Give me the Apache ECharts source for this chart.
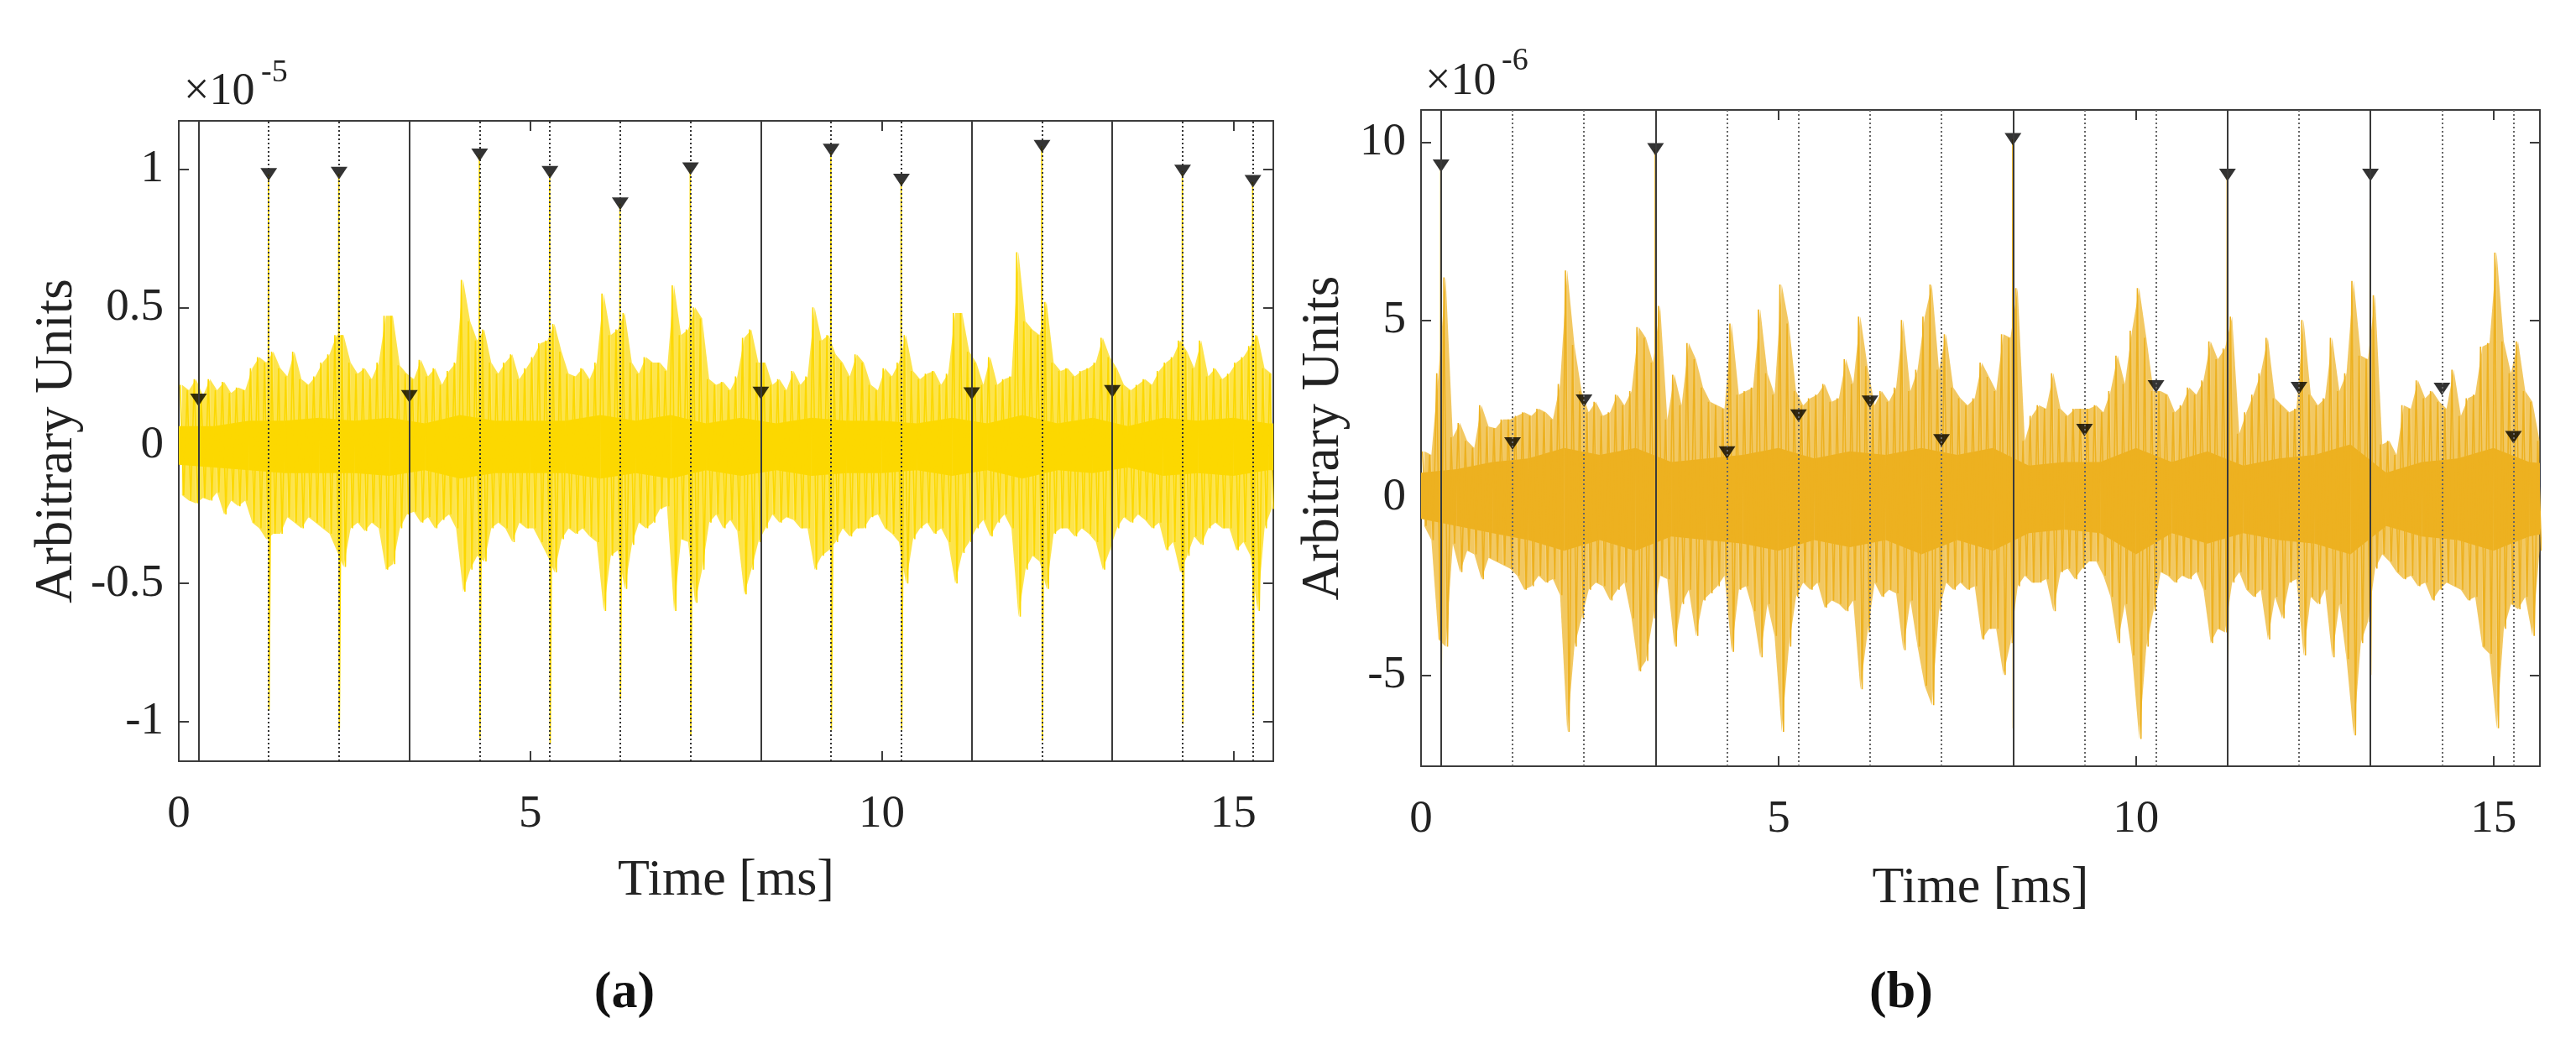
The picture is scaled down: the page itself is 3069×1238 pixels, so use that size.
<!DOCTYPE html>
<html>
<head>
<meta charset="utf-8">
<title>Arbitrary Units vs Time</title>
<script src="https://cdn.jsdelivr.net/npm/echarts@6/dist/echarts.min.js"></script>
<style>
  html, body { margin: 0; padding: 0; background: #fff; }
  #chart { width: 3069px; height: 1238px; }
</style>
</head>
<body>
<div id="chart"></div>
<script>
// event times (ms), the same in both panels
const eventTimes = [0.28, 1.28, 2.28, 3.28, 4.28, 5.28, 6.28, 7.28, 8.28, 9.28, 10.28, 11.28, 12.28, 13.28, 14.28, 15.28]
// events drawn with a solid line, the others are dotted
const solidEvents = [0.28, 3.28, 8.28, 11.28, 13.28]

// panel (a): marker heights and spike bottoms, in units of 1e-5
const markA = [0.165, 0.982, 0.987, 0.178, 1.053, 0.99, 0.876, 1.003, 0.19, 1.07, 0.962, 0.188, 1.084, 0.196, 0.994, 0.957]
const spikeLowA = [null, -0.96, -1.03, null, -1.06, -1.08, -0.92, -1.05, null, -1.03, -1.03, null, -1.07, null, -1.01, -0.98]
// panel (b): marker heights and spike bottoms, in units of 1e-6
const markB = [9.35, 1.52, 2.73, 9.81, 1.27, 2.31, 2.7, 1.61, 10.09, 1.9, 3.13, 9.09, 3.08, 9.09, 3.06, 1.7]
const spikeLowB = [-5.1, null, null, -6.1, null, null, null, null, -6.5, null, null, -5.0, null, -5.0, null, null]

// noise envelope, one bin every 0.1 ms
const binStep = 0.1
const hiA = [
  0.22, 0.2, 0.24, 0.18, 0.24, 0.2, 0.23, 0.19, 0.21, 0.2,
  0.28, 0.32, 0.3, 0.34, 0.28, 0.25, 0.34, 0.24, 0.22, 0.25,
  0.3, 0.33, 0.4, 0.4, 0.3, 0.26, 0.28, 0.24, 0.3, 0.47,
  0.47, 0.29, 0.26, 0.24, 0.31, 0.25, 0.28, 0.22, 0.27, 0.3,
  0.6, 0.45, 0.38, 0.42, 0.3, 0.26, 0.3, 0.33, 0.24, 0.28,
  0.32, 0.37, 0.38, 0.44, 0.34, 0.26, 0.25, 0.28, 0.24, 0.3,
  0.55, 0.4, 0.42, 0.48, 0.3, 0.26, 0.32, 0.3, 0.3, 0.27,
  0.58, 0.4, 0.42, 0.5, 0.46, 0.24, 0.22, 0.23, 0.2, 0.25,
  0.39, 0.42, 0.3, 0.3, 0.22, 0.24, 0.2, 0.27, 0.22, 0.25,
  0.5, 0.38, 0.4, 0.33, 0.3, 0.25, 0.33, 0.3, 0.22, 0.2,
  0.28, 0.25, 0.3, 0.4, 0.27, 0.24, 0.26, 0.27, 0.22, 0.26,
  0.48, 0.48, 0.34, 0.3, 0.22, 0.32, 0.22, 0.24, 0.25, 0.7,
  0.45, 0.42, 0.4, 0.52, 0.3, 0.27, 0.28, 0.25, 0.27, 0.28,
  0.3, 0.39, 0.32, 0.28, 0.22, 0.2, 0.22, 0.24, 0.22, 0.27,
  0.3, 0.32, 0.38, 0.34, 0.28, 0.38, 0.25, 0.28, 0.24, 0.26,
  0.3, 0.32, 0.36, 0.4, 0.28, 0.26
]
const loA = [
  -0.18, -0.2, -0.21, -0.19, -0.2, -0.17, -0.25, -0.2, -0.22, -0.2,
  -0.28, -0.3, -0.34, -0.32, -0.32, -0.26, -0.28, -0.3, -0.26, -0.28,
  -0.3, -0.32, -0.38, -0.44, -0.3, -0.28, -0.31, -0.28, -0.3, -0.45,
  -0.43, -0.3, -0.25, -0.24, -0.28, -0.26, -0.3, -0.27, -0.25, -0.3,
  -0.53, -0.45, -0.4, -0.42, -0.3, -0.28, -0.3, -0.35, -0.28, -0.3,
  -0.3, -0.35, -0.4, -0.46, -0.34, -0.3, -0.32, -0.3, -0.33, -0.35,
  -0.6, -0.4, -0.38, -0.52, -0.36, -0.28, -0.3, -0.28, -0.23, -0.22,
  -0.6, -0.34, -0.35, -0.57, -0.45, -0.28, -0.25, -0.3, -0.27, -0.31,
  -0.54, -0.45, -0.35, -0.3, -0.25, -0.28, -0.26, -0.27, -0.3, -0.3,
  -0.45, -0.4, -0.38, -0.35, -0.3, -0.33, -0.3, -0.3, -0.26, -0.25,
  -0.3, -0.32, -0.35, -0.5, -0.34, -0.3, -0.28, -0.32, -0.3, -0.35,
  -0.5, -0.39, -0.35, -0.3, -0.27, -0.33, -0.28, -0.25, -0.3, -0.62,
  -0.45, -0.4, -0.42, -0.52, -0.32, -0.3, -0.3, -0.33, -0.3, -0.32,
  -0.35, -0.45, -0.38, -0.3, -0.26, -0.28, -0.25, -0.27, -0.3, -0.28,
  -0.38, -0.35, -0.46, -0.4, -0.33, -0.36, -0.3, -0.28, -0.3, -0.3,
  -0.38, -0.35, -0.4, -0.6, -0.3, -0.23
]
const hiB = [
  1.3, 1.2, 3.5, 6.2, 1.7, 2.1, 1.6, 1.4, 2.6, 2.0,
  1.95, 2.2, 2.2, 2.3, 2.4, 2.3, 2.5, 2.4, 2.2, 3.2,
  6.4, 4.3, 3.0, 2.4, 2.7, 2.3, 2.4, 2.9, 2.6, 3.0,
  4.8, 4.5, 3.8, 5.4, 2.2, 3.46, 2.6, 4.35, 3.9, 3.1,
  2.7, 2.6, 2.5, 4.9, 2.9, 3.0, 3.1, 5.3, 3.5, 2.9,
  6.0, 4.9, 3.0, 2.6, 2.8, 2.9, 3.2, 2.7, 2.8, 3.9,
  3.2, 5.1, 3.7, 2.6, 3.0, 2.7, 3.1, 5.0, 3.0, 3.6,
  5.1, 6.0, 3.6, 4.6, 3.1, 2.8, 2.6, 2.8, 3.8, 3.4,
  3.0, 4.6, 4.5, 5.9, 1.6, 2.3, 2.6, 2.5, 3.5, 2.5,
  2.3, 2.5, 2.5, 2.5, 2.6, 2.4, 3.0, 4.0, 3.2, 4.7,
  5.9, 4.5, 3.0, 3.0, 2.9, 2.4, 2.6, 3.1, 2.9, 3.3,
  4.4, 3.9, 4.2, 5.1, 1.8, 2.4, 2.9, 3.5, 4.5, 2.8,
  2.6, 2.4, 2.5, 5.0, 2.9, 2.6, 2.8, 4.5, 3.0, 3.5,
  6.1, 4.0, 3.9, 5.7, 1.5, 1.6, 1.2, 2.6, 2.5, 3.3,
  2.8, 3.0, 2.7, 2.5, 3.6, 2.3, 2.8, 2.9, 4.25, 4.35,
  6.9, 4.4, 3.5, 4.4, 3.0, 2.7, 1.6
]
const loB = [
  -0.8, -1.2, -4.0, -4.2, -1.3, -2.1, -1.5, -1.6, -2.3, -1.7,
  -1.8, -1.9, -2.0, -2.2, -2.6, -2.5, -2.2, -2.4, -2.3, -2.75,
  -6.6, -4.2, -3.4, -2.6, -2.4, -2.5, -2.9, -2.6, -2.4, -3.4,
  -4.9, -4.6, -3.4, -2.2, -2.3, -4.2, -3.0, -2.6, -3.9, -2.9,
  -2.7, -2.5, -2.2, -4.35, -2.6, -2.5, -3.2, -4.5, -3.0, -3.9,
  -6.6, -4.2, -2.8, -2.4, -2.6, -2.4, -3.1, -2.9, -3.0, -3.2,
  -2.9, -5.4, -3.8, -2.4, -2.8, -2.6, -2.7, -4.3, -2.9, -4.2,
  -5.3, -5.85, -3.2, -2.4, -2.6, -2.4, -2.6, -2.5, -4.0, -3.7,
  -3.7, -5.0, -4.1, -2.5, -2.2, -2.4, -2.4, -2.3, -3.2, -2.1,
  -2.0, -2.3, -2.0, -1.8, -1.8, -2.2, -2.8, -4.1, -3.0, -4.45,
  -6.8, -4.2, -3.2, -2.1, -2.2, -2.4, -2.2, -2.3, -2.1, -2.6,
  -4.1, -3.7, -3.8, -2.4, -2.1, -2.6, -2.8, -2.6, -4.0, -2.8,
  -3.4, -2.4, -2.3, -4.45, -2.8, -3.0, -2.6, -4.5, -3.0, -4.55,
  -6.7, -4.1, -3.5, -2.0, -1.6, -1.8, -2.1, -2.3, -2.2, -2.5,
  -2.4, -2.9, -2.6, -2.4, -2.5, -2.6, -2.9, -2.8, -4.2, -4.4,
  -6.5, -3.7, -3.0, -3.15, -2.8, -3.9, -1.5
]

// dense core of the signal, one value every 0.5 ms
const coreStep = 0.5
const coreHiA = [0.07, 0.07, 0.09, 0.09, 0.1, 0.09, 0.1, 0.08, 0.11, 0.09, 0.09, 0.09, 0.11, 0.09, 0.11, 0.08, 0.1,
  0.08, 0.1, 0.09, 0.09, 0.08, 0.1, 0.08, 0.11, 0.08, 0.1, 0.07, 0.1, 0.09, 0.1, 0.08, 0.08]
const coreLoA = [-0.07, -0.08, -0.09, -0.1, -0.1, -0.1, -0.11, -0.09, -0.12, -0.1, -0.1, -0.1, -0.12, -0.1, -0.12, -0.09, -0.11,
  -0.09, -0.11, -0.1, -0.1, -0.09, -0.11, -0.09, -0.12, -0.09, -0.1, -0.08, -0.11, -0.1, -0.11, -0.09, -0.09]
const coreHiB = [0.7, 0.8, 1.0, 1.1, 1.4, 1.2, 1.4, 1.0, 1.1, 1.2, 1.4, 1.1, 1.3, 1.2, 1.4, 1.2, 1.4,
  0.9, 1.0, 1.0, 1.4, 1.0, 1.3, 0.9, 1.1, 1.2, 1.5, 0.7, 1.0, 1.1, 1.4, 1.0, 0.9]
const coreLoB = [-0.6, -0.8, -1.0, -1.2, -1.5, -1.2, -1.5, -1.1, -1.2, -1.3, -1.5, -1.2, -1.4, -1.2, -1.6, -1.2, -1.5,
  -1.0, -0.9, -1.0, -1.6, -1.0, -1.3, -1.0, -1.2, -1.3, -1.6, -0.8, -1.1, -1.2, -1.5, -1.1, -0.9]

// axes
const xTicks = [0, 5, 10, 15]
const yTicksA = [-1, -0.5, 0, 0.5, 1]
const yTicksB = [-5, 0, 5, 10]
const xRangeA = [0, 15.57]
const xRangeB = [0, 15.65]
const yRangeA = [-1.144, 1.176]
const yRangeB = [-7.57, 10.92]

const serif = 'Liberation Serif'
const ink = '#222222'
const boxColor = '#3c3c3c'
const colorA = '#FCD800'
const colorB = '#EDB120'
const hazeA = 'rgba(252, 216, 0, 0.7)'
const hazeB = 'rgba(237, 177, 32, 0.7)'

/**
 * 把上下包络连成锯齿线，再插入事件处的尖峰
 */
function zigzag(hi, lo, marks, spikeLow) {
  const pts = []
  hi.forEach((h, i) => {
    const t = i * binStep
    pts.push([t + 0.02, h])
    pts.push([t + 0.07, lo[i]])
  })
  eventTimes.forEach((t, i) => {
    if (spikeLow[i] !== null) {
      pts.push([t - 0.004, marks[i]])
      pts.push([t + 0.004, spikeLow[i]])
    }
  })
  pts.sort((p, q) => p[0] - q[0])
  return pts
}

// band as quads between consecutive samples: [t0, lo0, hi0, t1, lo1, hi1]
function bandSegments(hi, lo, step, offset) {
  const segs = []
  for (let i = 0; i < hi.length - 1; i++) {
    segs.push([i * step + offset, lo[i], hi[i], (i + 1) * step + offset, lo[i + 1], hi[i + 1]])
  }
  return segs
}

function bandSeries(axis, segs, fill, z) {
  return {
    type: 'custom',
    xAxisIndex: axis,
    yAxisIndex: axis,
    clip: true,
    silent: true,
    z: z,
    data: segs,
    encode: { x: [0, 3], y: [1, 2, 4, 5] },
    renderItem: (params, api) => ({
      type: 'polygon',
      shape: {
        points: [
          api.coord([api.value(0), api.value(2)]),
          api.coord([api.value(3), api.value(5)]),
          api.coord([api.value(3), api.value(4)]),
          api.coord([api.value(0), api.value(1)])
        ]
      },
      style: { fill: fill }
    })
  }
}

function makeXAxis(grid, range, bottom, nameGap) {
  return {
    gridIndex: grid,
    type: 'value',
    min: range[0],
    max: range[1],
    position: bottom ? 'bottom' : 'top',
    name: bottom ? 'Time [ms]' : '',
    nameLocation: 'middle',
    nameGap: nameGap,
    nameTextStyle: { fontFamily: serif, fontSize: 62, color: ink },
    axisLine: { show: true, onZero: false, lineStyle: { color: boxColor, width: 2 } },
    axisTick: { show: true, inside: true, length: 12, customValues: xTicks, lineStyle: { color: boxColor, width: 2 } },
    axisLabel: {
      show: bottom,
      customValues: xTicks,
      margin: 36,
      fontFamily: serif,
      fontSize: 55,
      color: ink
    },
    splitLine: { show: false }
  }
}

function makeYAxis(grid, range, ticks, left, nameGap) {
  return {
    gridIndex: grid,
    type: 'value',
    min: range[0],
    max: range[1],
    position: left ? 'left' : 'right',
    name: left ? 'Arbitrary Units' : '',
    nameLocation: 'middle',
    nameGap: nameGap,
    nameTextStyle: { fontFamily: serif, fontSize: 63, color: ink },
    axisLine: { show: true, onZero: false, lineStyle: { color: boxColor, width: 2 } },
    axisTick: { show: true, inside: true, length: 12, customValues: ticks, lineStyle: { color: boxColor, width: 2 } },
    axisLabel: {
      show: left,
      customValues: ticks,
      margin: 18,
      fontFamily: serif,
      fontSize: 55,
      color: ink
    },
    splitLine: { show: false }
  }
}

function panelSeries(axis, color, haze, dotColor, hi, lo, coreHi, coreLo, marks, spikeLow) {
  const solidLines = solidEvents.map((t) => ({ xAxis: t }))
  const dottedLines = eventTimes.filter((t) => solidEvents.indexOf(t) < 0).map((t) => ({ xAxis: t }))
  return [
    // 包络内的浅色部分
    bandSeries(axis, bandSegments(hi, lo, binStep, 0.045), haze, 1),
    // 信号的密集部分
    bandSeries(axis, bandSegments(coreHi, coreLo, coreStep, 0), color, 1),
    {
      // 噪声的尖刺
      type: 'line',
      xAxisIndex: axis,
      yAxisIndex: axis,
      data: zigzag(hi, lo, marks, spikeLow),
      symbol: 'none',
      sampling: null,
      silent: true,
      z: 2,
      lineStyle: { color: color, width: 1.6, join: 'miter' }
    },
    {
      // 事件竖线
      type: 'line',
      xAxisIndex: axis,
      yAxisIndex: axis,
      data: [],
      z: 3,
      markLine: {
        silent: true,
        symbol: ['none', 'none'],
        label: { show: false },
        animation: false,
        data: solidLines.map((d) => Object.assign({ lineStyle: { type: 'solid', color: '#3a3a3a', width: 2 } }, d))
          .concat(dottedLines.map((d) => Object.assign({ lineStyle: { type: [2, 3], color: dotColor, width: 2 } }, d)))
      }
    },
    {
      // 峰值标记
      type: 'scatter',
      xAxisIndex: axis,
      yAxisIndex: axis,
      z: 4,
      symbol: 'triangle',
      symbolRotate: 180,
      symbolSize: [20, 15],
      itemStyle: { color: '#000000' },
      data: eventTimes.map((t, i) => [t, marks[i]])
    }
  ]
}

const chartInstance = echarts.init(document.getElementById('chart'), null, { renderer: 'canvas' })

const option = {
  animation: false,
  backgroundColor: '#ffffff',
  textStyle: { fontFamily: serif },
  grid: [
    { left: 213, top: 144, width: 1304, height: 763 },
    { left: 1693, top: 131, width: 1333, height: 782 }
  ],
  xAxis: [
    makeXAxis(0, xRangeA, true, 112),
    makeXAxis(0, xRangeA, false, 0),
    makeXAxis(1, xRangeB, true, 115),
    makeXAxis(1, xRangeB, false, 0)
  ],
  yAxis: [
    makeYAxis(0, yRangeA, yTicksA, true, 113),
    makeYAxis(0, yRangeA, yTicksA, false, 0),
    makeYAxis(1, yRangeB, yTicksB, true, 84),
    makeYAxis(1, yRangeB, yTicksB, false, 0)
  ],
  series: panelSeries(0, colorA, hazeA, '#333333', hiA, loA, coreHiA, coreLoA, markA, spikeLowA)
    .concat(panelSeries(2, colorB, hazeB, '#666666', hiB, loB, coreHiB, coreLoB, markB, spikeLowB)),
  graphic: [
    { type: 'text', x: 219, y: 110, style: { text: '×10', fontFamily: serif, fontSize: 54, fill: ink, verticalAlign: 'middle' } },
    { type: 'text', x: 311, y: 87, style: { text: '-5', fontFamily: serif, fontSize: 38, fill: ink, verticalAlign: 'middle' } },
    { type: 'text', x: 1698, y: 98, style: { text: '×10', fontFamily: serif, fontSize: 54, fill: ink, verticalAlign: 'middle' } },
    { type: 'text', x: 1789, y: 73, style: { text: '-6', fontFamily: serif, fontSize: 38, fill: ink, verticalAlign: 'middle' } },
    { type: 'text', x: 744, y: 1184, style: { text: '(a)', fontFamily: serif, fontWeight: 'bold', fontSize: 62, fill: '#111', align: 'center', verticalAlign: 'middle' } },
    { type: 'text', x: 2265, y: 1184, style: { text: '(b)', fontFamily: serif, fontWeight: 'bold', fontSize: 62, fill: '#111', align: 'center', verticalAlign: 'middle' } }
  ]
}

chartInstance.setOption(option)
</script>
</body>
</html>
